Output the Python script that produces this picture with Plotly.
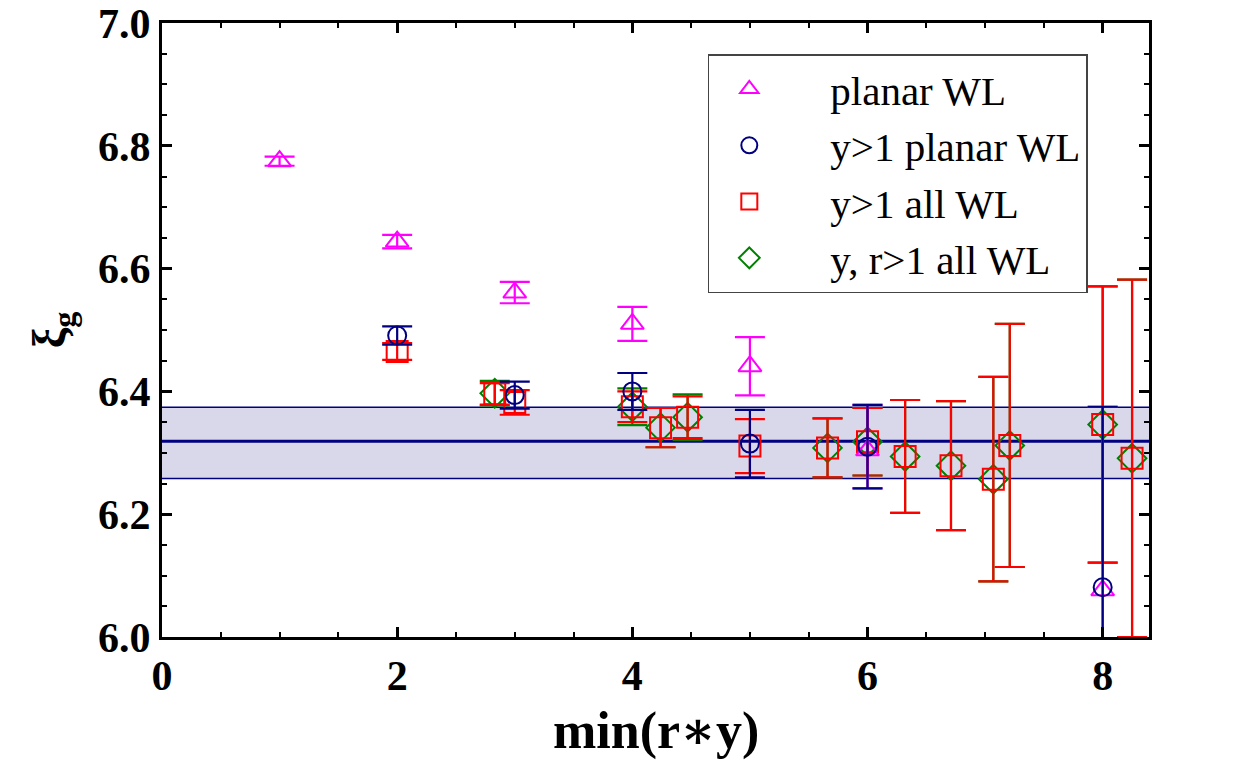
import plotly.graph_objects as go

# ---------------- data ----------------
# planar WL (magenta triangles)
planar_x = [1, 2, 3, 4, 5, 6, 8]
planar_y = [6.775, 6.644, 6.561, 6.510, 6.441, 6.304, 6.076]
planar_e_up = [0.0075, 0.011, 0.0174, 0.0277, 0.0475, 0.074, 0.299]
planar_e_dn = [0.0075, 0.011, 0.0174, 0.0277, 0.0475, 0.062, 0.289]

# y>1 planar WL (blue circles)
yp_x = [2, 3, 4, 5, 6, 8]
yp_y = [6.491, 6.394, 6.400, 6.315, 6.310, 6.081]
yp_e = [0.015, 0.022, 0.030, 0.055, 0.068, 0.294]

# y>1 all WL (red squares)
ya_x = [2, 2.83, 3, 4, 4.24, 4.47, 5, 5.66, 6, 6.32, 6.71, 7.07, 7.21, 8, 8.25]
ya_y = [6.465, 6.396, 6.382, 6.375, 6.341, 6.358, 6.311, 6.308, 6.318, 6.294, 6.279,
        6.257, 6.312, 6.346, 6.291]
ya_e = [0.0136, 0.0176, 0.020, 0.025, 0.032, 0.034, 0.044, 0.048, 0.055, 0.092, 0.105,
        0.1665, 0.198, 0.225, 0.291]

# y, r>1 all WL (green diamonds)
yr_x = [2.83, 4, 4.24, 4.47, 5.66, 6, 6.32, 6.71, 7.07, 7.21, 8, 8.25]
yr_y = [6.397, 6.375, 6.341, 6.358, 6.308, 6.318, 6.294, 6.279, 6.257, 6.312, 6.346, 6.291]
yr_e = [0.020, 0.030, 0.032, 0.037, 0.048, 0.055, 0.092, 0.105, 0.1665, 0.198, 0.225, 0.291]

# fit band
fit_center = 6.319
fit_low = 6.258
fit_high = 6.374

x_range = [0, 8.394]
y_range = [6.0, 7.0]
x_ticks = [0, 2, 4, 6, 8]
y_ticks = [6.0, 6.2, 6.4, 6.6, 6.8, 7.0]

MAGENTA = "#ff00ff"
NAVY = "#000080"
RED = "#ff0000"
GREEN = "#008000"
FONT = "Liberation Serif"
PAD = "\u00a0" * 4

fig = go.Figure()


def add_series(x, y, e_up, e_dn, name, symbol, color, size, rank):
    fig.add_trace(go.Scatter(
        x=x, y=y, mode="markers", name=PAD + name, legendrank=rank,
        marker=dict(symbol=symbol, size=size, color=color,
                    line=dict(color=color, width=2)),
        error_y=dict(type="data", symmetric=False, array=e_up, arrayminus=e_dn,
                     visible=True, color=color, thickness=2.2, width=15),
    ))


add_series(yr_x, yr_y, yr_e, yr_e, "y, r>1 all WL", "diamond-open", GREEN, 22, 4)
add_series(ya_x, ya_y, ya_e, ya_e, "y>1 all WL", "square-open", RED, 21, 3)
add_series(planar_x, planar_y, planar_e_up, planar_e_dn, "planar WL", "triangle-up-open",
           MAGENTA, 20, 1)
add_series(yp_x, yp_y, yp_e, yp_e, "y>1 planar WL", "circle-open", NAVY, 18, 2)

# band
fig.add_shape(type="rect", xref="paper", x0=0, x1=1, yref="y", y0=fit_low, y1=fit_high,
              fillcolor="#d8d8ea", line=dict(width=0), layer="below")
for yv, w in [(fit_low, 1.5), (fit_high, 1.5), (fit_center, 3)]:
    fig.add_shape(type="line", xref="paper", x0=0, x1=1, yref="y", y0=yv, y1=yv,
                  line=dict(color=NAVY, width=w), layer="below")

axis_common = dict(
    showline=True, linewidth=3, linecolor="black", mirror="allticks",
    ticks="inside", ticklen=10, tickwidth=3, tickcolor="black",
    showgrid=False, zeroline=False, automargin=False,
)

fig.update_xaxes(
    range=x_range, tickvals=x_ticks, ticktext=[str(v) for v in x_ticks],
    tickfont=dict(family=FONT, size=42, color="black", weight="bold"),
    minor=dict(dtick=0.5, ticks="inside", ticklen=5, tickwidth=2, tickcolor="black"),
    **axis_common,
)
fig.update_yaxes(
    range=y_range, tickvals=y_ticks, ticktext=[f"{v:.1f}" for v in y_ticks],
    tickfont=dict(family=FONT, size=42, color="black", weight="bold"),
    minor=dict(dtick=0.05, ticks="inside", ticklen=5, tickwidth=2, tickcolor="black"),
    title=dict(text="<b>ξ<sub>g</sub></b>", font=dict(family=FONT, size=46, color="black"),
               standoff=18),
    **axis_common,
)

# x-axis title placed below the tick labels
fig.add_annotation(
    text="<b>min(r<span style='font-family:DejaVu Serif'>∗</span>y)</b>",
    xref="paper", yref="paper", x=0.5, y=0, xanchor="center", yanchor="top",
    yshift=-60, showarrow=False,
    font=dict(family=FONT, size=52, color="black"),
)

fig.update_layout(
    width=1250, height=782,
    margin=dict(l=162, r=101, t=23, b=145),
    plot_bgcolor="white", paper_bgcolor="white",
    showlegend=True,
    legend=dict(
        x=0.553, y=0.949, xanchor="left", yanchor="top",
        bgcolor="white", bordercolor="#444444", borderwidth=1.5,
        font=dict(family=FONT, size=41, color="black"),
        itemwidth=70,
    ),
)

fig.write_html("out.html")
